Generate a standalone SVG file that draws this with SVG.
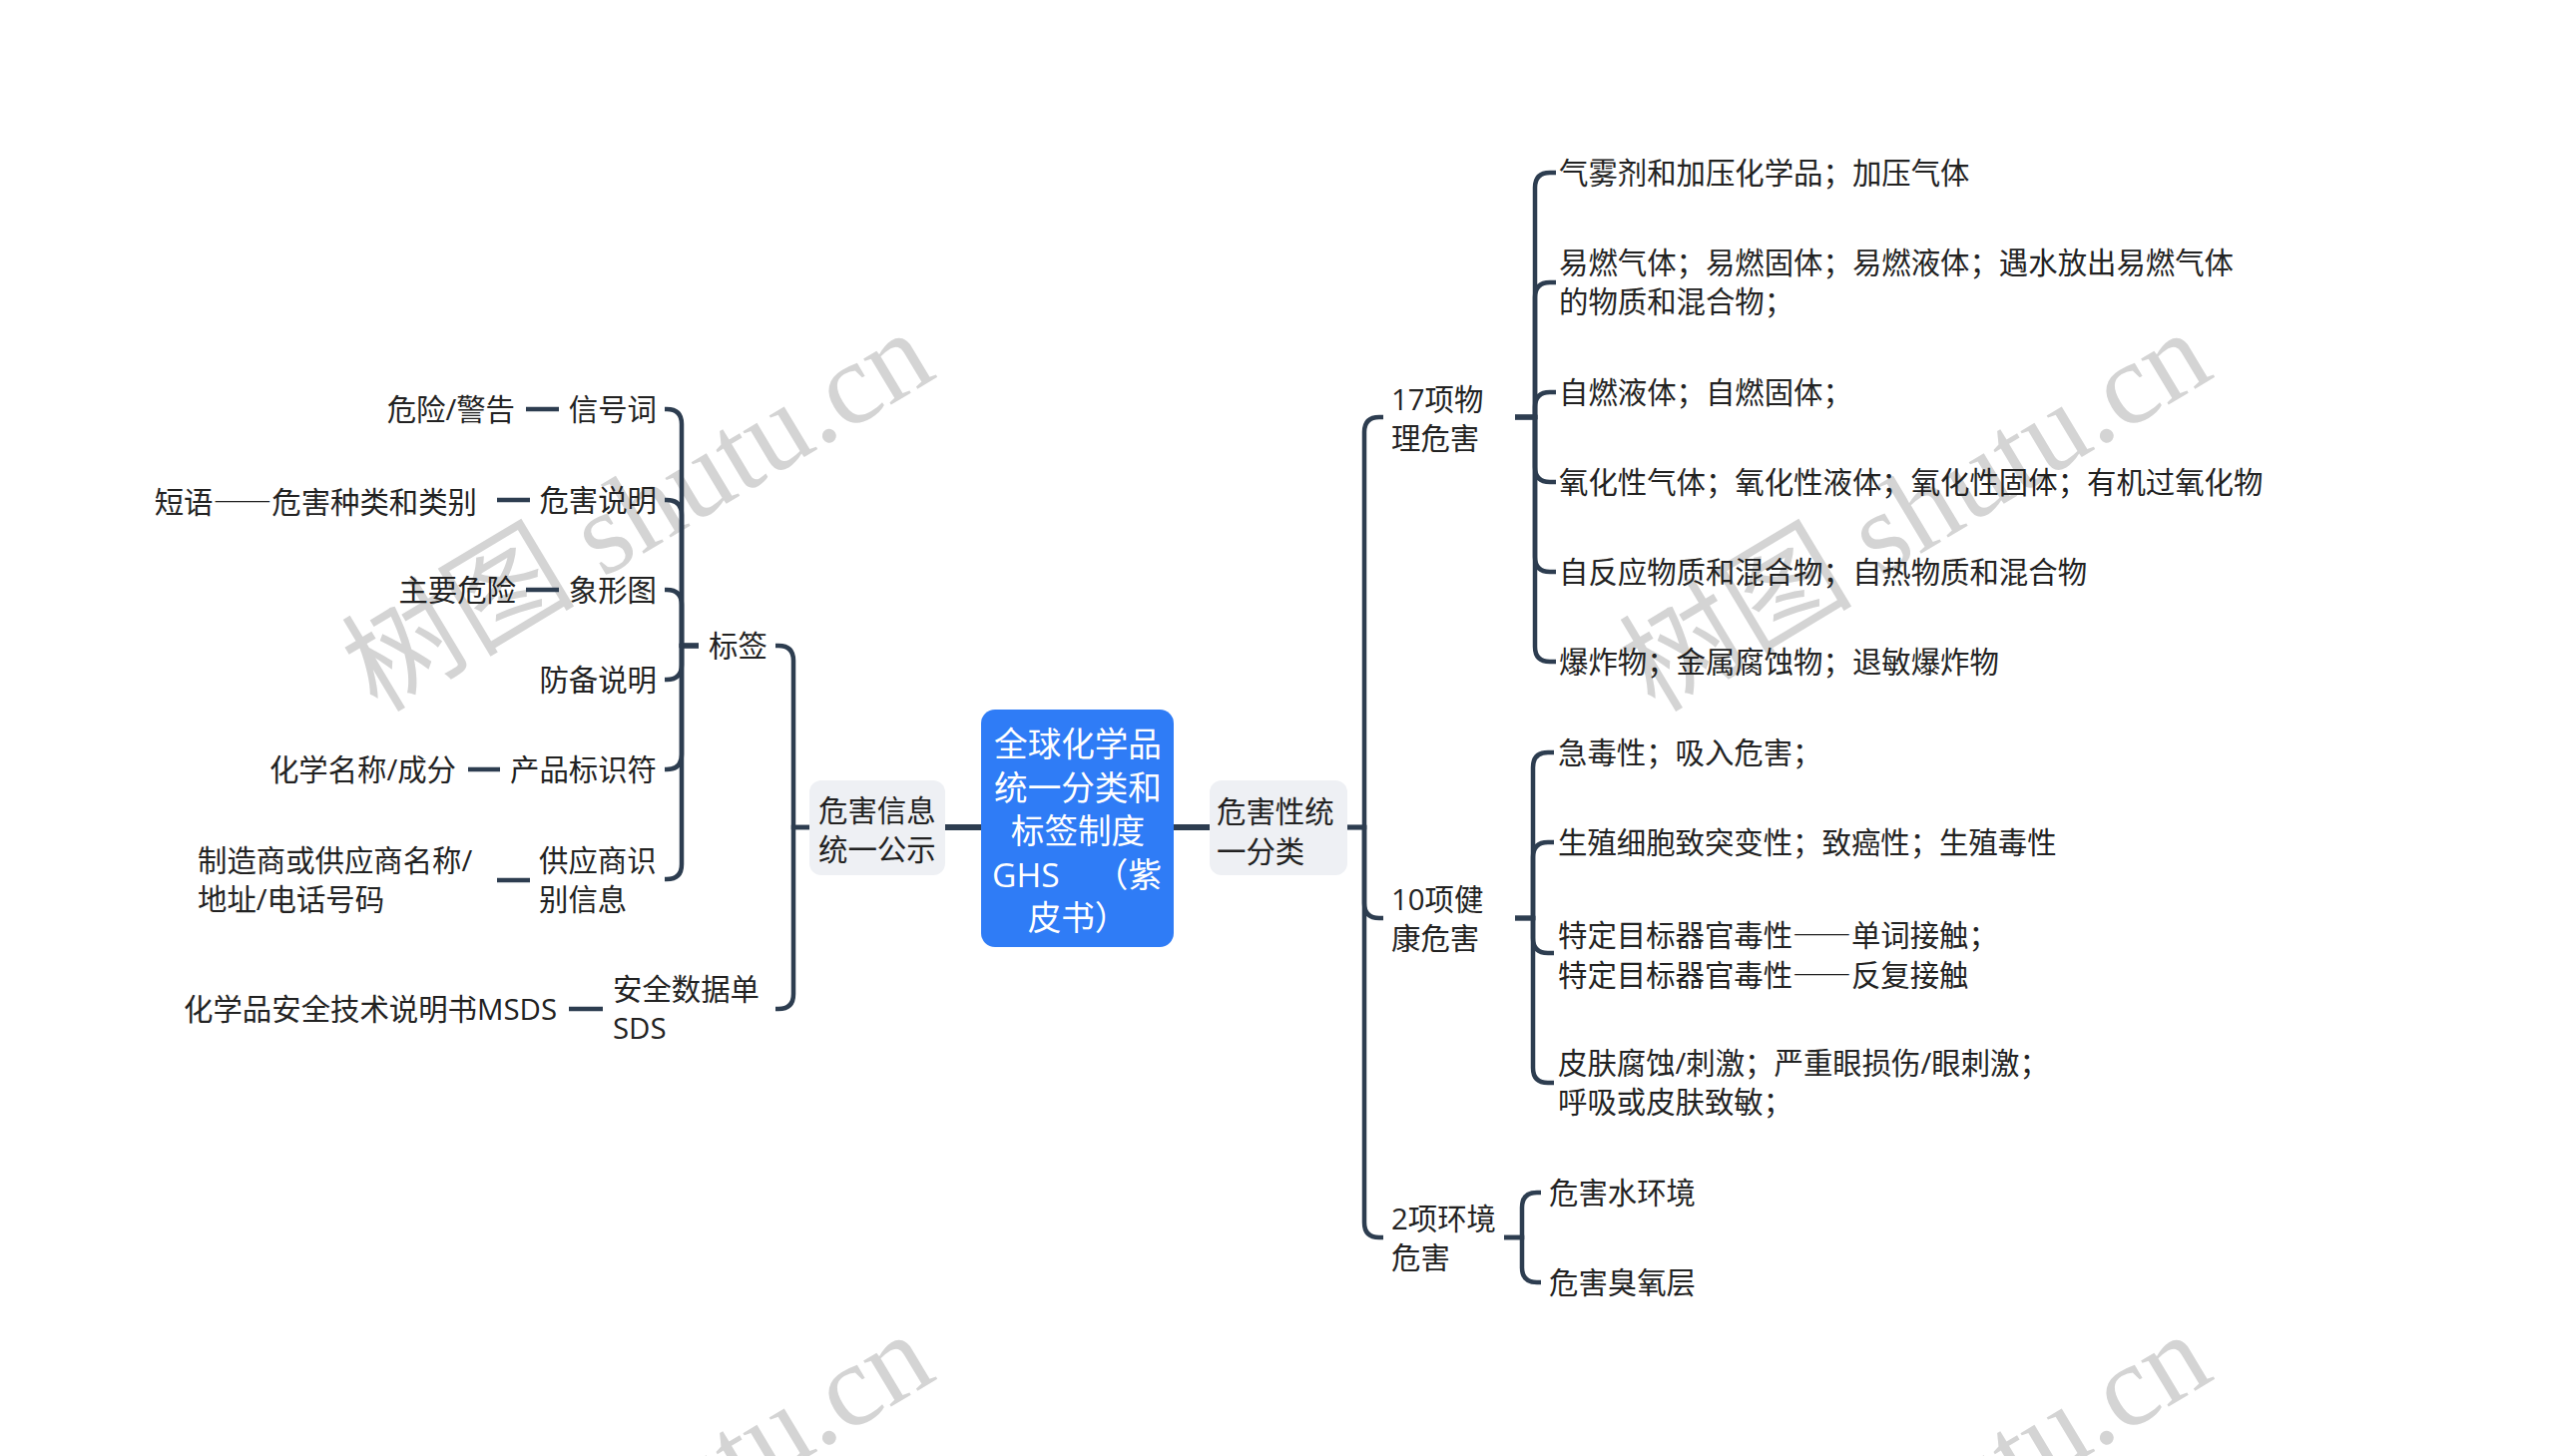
<svg xmlns="http://www.w3.org/2000/svg" width="2560" height="1459" viewBox="0 0 2560 1459">
<style>
.t{font-family:"Open Sans","Noto Sans CJK SC",sans-serif;font-size:29.4px;fill:#222;dominant-baseline:central}
.cj{font-family:"Noto Sans CJK SC",sans-serif;font-feature-settings:"fwid" 1}
.e{text-anchor:end}
.rt{font-family:"Open Sans","Noto Sans CJK SC",sans-serif;font-size:33.6px;fill:#fff;dominant-baseline:central;text-anchor:middle}
.wm{font-family:"Liberation Serif","Noto Sans CJK SC",serif;font-size:117px;fill:#d4d4d4}
.c{fill:none;stroke:#2d3d50;stroke-width:4.5}
.c0{fill:none;stroke:#2d3d50;stroke-width:6}
</style>
<rect width="2560" height="1459" fill="#fff"/>
<g id="watermarks">
<text class="wm" x="378" y="715" transform="rotate(-31 378 715)">树图 shutu.cn</text>
<text class="wm" x="1658" y="715" transform="rotate(-31 1658 715)">树图 shutu.cn</text>
<text class="wm" x="378" y="1719" transform="rotate(-31 378 1719)">树图 shutu.cn</text>
<text class="wm" x="1658" y="1719" transform="rotate(-31 1658 1719)">树图 shutu.cn</text>
</g>
<g id="connectors">
<path class="c0" d="M947,829 H983 M1176,829 H1212"/>
<path class="c" d="M1350,829 H1367 V433 Q1367,418 1382,418 H1386"/>
<path class="c" d="M1350,829 H1367 V905 Q1367,920 1382,920 H1386"/>
<path class="c" d="M1350,829 H1367 V1225 Q1367,1240 1382,1240 H1386"/>
<path class="c" d="M1518,418 H1538 V188 Q1538,173 1553,173 H1559"/>
<path class="c" d="M1518,418 H1538 V298 Q1538,283 1553,283 H1559"/>
<path class="c" d="M1518,418 H1538 V408 Q1538,393 1553,393 H1559"/>
<path class="c" d="M1518,418 H1538 V468 Q1538,483 1553,483 H1559"/>
<path class="c" d="M1518,418 H1538 V558 Q1538,573 1553,573 H1559"/>
<path class="c" d="M1518,418 H1538 V648 Q1538,663 1553,663 H1559"/>
<path class="c" d="M1518,920 H1536 V769 Q1536,754 1551,754 H1557"/>
<path class="c" d="M1518,920 H1536 V859 Q1536,844 1551,844 H1557"/>
<path class="c" d="M1518,920 H1536 V940 Q1536,955 1551,955 H1557"/>
<path class="c" d="M1518,920 H1536 V1070 Q1536,1085 1551,1085 H1557"/>
<path class="c" d="M1507,1240 H1525 V1210 Q1525,1195 1540,1195 H1544"/>
<path class="c" d="M1507,1240 H1525 V1270 Q1525,1285 1540,1285 H1544"/>
<path class="c" d="M811,829 H795 V662 Q795,647 780,647 H777"/>
<path class="c" d="M811,829 H795 V996 Q795,1011 780,1011 H777"/>
<path class="c" d="M700,647 H683 V425 Q683,410 668,410 H666"/>
<path class="c" d="M700,647 H683 V516 Q683,501 668,501 H666"/>
<path class="c" d="M700,647 H683 V606 Q683,591 668,591 H666"/>
<path class="c" d="M700,647 H683 V666 Q683,681 668,681 H666"/>
<path class="c" d="M700,647 H683 V756 Q683,771 668,771 H666"/>
<path class="c" d="M700,647 H683 V866 Q683,881 668,881 H666"/>
<path class="c" d="M560,410 H527 M531,501 H498 M560,591 H527 M501,771 H469 M531,882 H498 M604,1011 H570"/>
</g>
<g id="root">
<rect x="983" y="711" width="193" height="238" rx="14" fill="#2f7cf6"/>
<text class="rt"><tspan x="1080" y="745">全球化学品</tspan><tspan x="1080" y="789">统一分类和</tspan><tspan x="1080" y="832">标签制度</tspan><tspan x="994" y="876" text-anchor="start">GHS</tspan><tspan x="1164" y="876" text-anchor="end">（紫</tspan><tspan x="1080" y="919">皮书）</tspan></text>
</g>
<g id="n-hazard-class">
<rect x="1212" y="782" width="138" height="95" rx="12" fill="#eef0f4"/>
<text class="t"><tspan x="1219" y="813">危害性统</tspan><tspan x="1219" y="853">一分类</tspan></text>
</g>
<g id="n-hazard-info">
<rect x="811" y="782" width="136" height="95" rx="12" fill="#eef0f4"/>
<text class="t"><tspan x="820" y="812">危害信息</tspan><tspan x="820" y="851">统一公示</tspan></text>
</g>
<g id="n-physical"><text class="t"><tspan x="1394" y="400">17项物</tspan><tspan x="1394" y="439">理危害</tspan></text></g>
<g id="n-health"><text class="t"><tspan x="1394" y="901">10项健</tspan><tspan x="1394" y="940">康危害</tspan></text></g>
<g id="n-env"><text class="t"><tspan x="1394" y="1221">2项环境</tspan><tspan x="1394" y="1260">危害</tspan></text></g>
<g id="p1"><text class="t" x="1562" y="173">气雾剂和加压化学品；加压气体</text></g>
<g id="p2"><text class="t"><tspan x="1562" y="263">易燃气体；易燃固体；易燃液体；遇水放出易燃气体</tspan><tspan x="1562" y="302">的物质和混合物；</tspan></text></g>
<g id="p3"><text class="t" x="1562" y="393">自燃液体；自燃固体；</text></g>
<g id="p4"><text class="t" x="1562" y="483">氧化性气体；氧化性液体；氧化性固体；有机过氧化物</text></g>
<g id="p5"><text class="t" x="1562" y="573">自反应物质和混合物；自热物质和混合物</text></g>
<g id="p6"><text class="t" x="1562" y="663">爆炸物；金属腐蚀物；退敏爆炸物</text></g>
<g id="h1"><text class="t" x="1561" y="754">急毒性；吸入危害；</text></g>
<g id="h2"><text class="t" x="1561" y="844">生殖细胞致突变性；致癌性；生殖毒性</text></g>
<g id="h3"><text class="t cj"><tspan x="1561" y="935">特定目标器官毒性——单词接触；</tspan><tspan x="1561" y="975">特定目标器官毒性——反复接触</tspan></text></g>
<g id="h4"><text class="t"><tspan x="1561" y="1065">皮肤腐蚀/刺激；严重眼损伤/眼刺激；</tspan><tspan x="1561" y="1104">呼吸或皮肤致敏；</tspan></text></g>
<g id="e1"><text class="t" x="1552" y="1195">危害水环境</text></g>
<g id="e2"><text class="t" x="1552" y="1285">危害臭氧层</text></g>
<g id="n-label"><text class="t" x="710" y="647">标签</text></g>
<g id="n-sds"><text class="t"><tspan x="614" y="991">安全数据单</tspan><tspan x="614" y="1030">SDS</tspan></text></g>
<g id="l1"><text class="t e" x="658" y="410">信号词</text></g>
<g id="l2"><text class="t e" x="658" y="501">危害说明</text></g>
<g id="l3"><text class="t e" x="658" y="591">象形图</text></g>
<g id="l4"><text class="t e" x="658" y="681">防备说明</text></g>
<g id="l5"><text class="t e" x="658" y="771">产品标识符</text></g>
<g id="l6"><text class="t"><tspan x="540" y="862">供应商识</tspan><tspan x="540" y="901">别信息</tspan></text></g>
<g id="g1"><text class="t e" x="516" y="410">危险/警告</text></g>
<g id="g2"><text class="t cj e" x="478" y="501">短语——危害种类和类别</text></g>
<g id="g3"><text class="t e" x="517" y="591">主要危险</text></g>
<g id="g5"><text class="t e" x="457" y="771">化学名称/成分</text></g>
<g id="g6"><text class="t"><tspan x="198" y="862">制造商或供应商名称/</tspan><tspan x="198" y="901">地址/电话号码</tspan></text></g>
<g id="g7"><text class="t e" x="558" y="1011">化学品安全技术说明书MSDS</text></g>
</svg>
